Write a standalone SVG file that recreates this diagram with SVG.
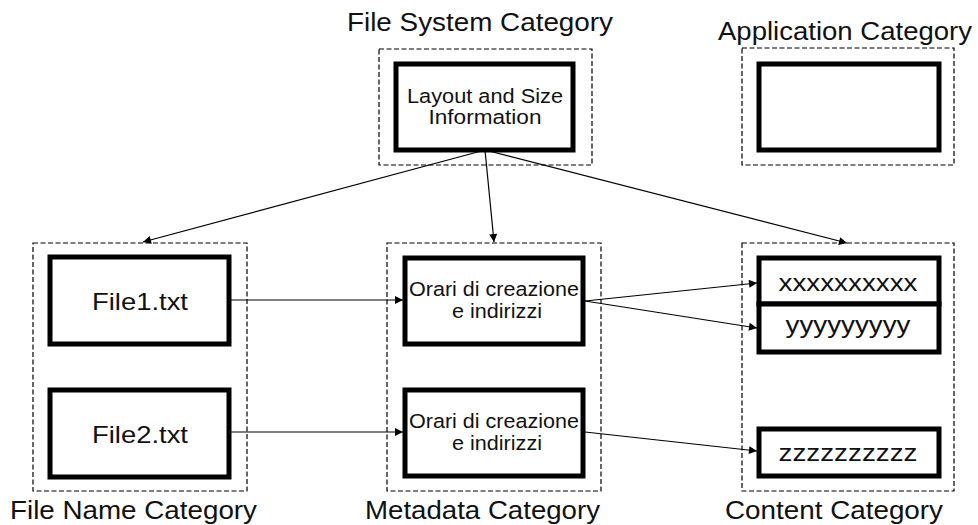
<svg xmlns="http://www.w3.org/2000/svg" width="978" height="525" viewBox="0 0 978 525">
  <style>
    .cat { fill: none; stroke: #000; stroke-width: 1.2; stroke-dasharray: 5 2.5; }
    .box { fill: #fff; stroke: #000; stroke-width: 5; }
    .lbl { font-family: "Liberation Sans", Arial, sans-serif; font-size: 25px; fill: #111; }
    .txt { font-family: "Liberation Sans", Arial, sans-serif; font-size: 20.5px; fill: #111; text-anchor: middle; }
    .big { font-family: "Liberation Sans", Arial, sans-serif; font-size: 24px; fill: #111; text-anchor: middle; }
    .conn line { stroke: #000; stroke-width: 1.2; marker-end: url(#arrow); }
  </style>
  <defs>
    <marker id="arrow" viewBox="0 0 10 10" refX="10" refY="5" markerWidth="10" markerHeight="8" markerUnits="userSpaceOnUse" orient="auto">
      <path d="M0,0 L10,5 L0,10 z" fill="#000"/>
    </marker>
  </defs>
  <rect width="978" height="525" fill="#fff"/>

  <!-- File System Category -->
  <g id="fs-category">
    <text class="lbl" x="347" y="31" textLength="266" lengthAdjust="spacingAndGlyphs">File System Category</text>
    <rect class="cat" x="379" y="49" width="213" height="116"/>
  </g>
  <g id="layout-size">
    <rect class="box" x="396" y="64" width="177" height="86"/>
    <text class="txt" x="485" y="103" textLength="156" lengthAdjust="spacingAndGlyphs">Layout and Size</text>
    <text class="txt" x="485" y="124" textLength="113" lengthAdjust="spacingAndGlyphs">Information</text>
  </g>

  <!-- Application Category -->
  <g id="app-category">
    <text class="lbl" x="718" y="40" textLength="254" lengthAdjust="spacingAndGlyphs">Application Category</text>
    <rect class="cat" x="742" y="48" width="212" height="117"/>
  </g>
  <g id="app-box">
    <rect class="box" x="759" y="64" width="180" height="86"/>
  </g>

  <!-- File Name Category -->
  <g id="fn-category">
    <rect class="cat" x="33" y="243" width="214" height="248"/>
    <text class="lbl" x="10" y="519" textLength="247" lengthAdjust="spacingAndGlyphs">File Name Category</text>
  </g>
  <g id="file1">
    <rect class="box" x="50" y="257" width="179" height="87"/>
    <text class="big" x="140" y="310" textLength="96" lengthAdjust="spacingAndGlyphs">File1.txt</text>
  </g>
  <g id="file2">
    <rect class="box" x="50" y="390" width="179" height="87"/>
    <text class="big" x="140" y="443" textLength="96" lengthAdjust="spacingAndGlyphs">File2.txt</text>
  </g>

  <!-- Metadata Category -->
  <g id="md-category">
    <rect class="cat" x="387" y="243" width="214" height="248"/>
    <text class="lbl" x="365" y="519" textLength="235" lengthAdjust="spacingAndGlyphs">Metadata Category</text>
  </g>
  <g id="meta1">
    <rect class="box" x="405" y="258" width="178" height="86"/>
    <text class="txt" x="494" y="296" textLength="170" lengthAdjust="spacingAndGlyphs">Orari di creazione</text>
    <text class="txt" x="497" y="318" textLength="90" lengthAdjust="spacingAndGlyphs">e indirizzi</text>
  </g>
  <g id="meta2">
    <rect class="box" x="405" y="390" width="178" height="86"/>
    <text class="txt" x="494" y="428" textLength="170" lengthAdjust="spacingAndGlyphs">Orari di creazione</text>
    <text class="txt" x="497" y="450" textLength="90" lengthAdjust="spacingAndGlyphs">e indirizzi</text>
  </g>

  <!-- Content Category -->
  <g id="ct-category">
    <rect class="cat" x="742" y="243" width="212" height="248"/>
    <text class="lbl" x="725" y="519" textLength="218" lengthAdjust="spacingAndGlyphs">Content Category</text>
  </g>
  <g id="content-x">
    <rect class="box" x="759" y="258" width="180" height="46"/>
    <text class="big" x="848" y="291" textLength="139" lengthAdjust="spacingAndGlyphs">xxxxxxxxxx</text>
  </g>
  <g id="content-y">
    <rect class="box" x="759" y="304" width="180" height="48"/>
    <text class="big" x="848" y="333" textLength="125" lengthAdjust="spacingAndGlyphs">yyyyyyyyy</text>
  </g>
  <g id="content-z">
    <rect class="box" x="759" y="429" width="180" height="47"/>
    <text class="big" x="848" y="461" textLength="139" lengthAdjust="spacingAndGlyphs">zzzzzzzzzz</text>
  </g>

  <!-- Connectors -->
  <g id="connectors" class="conn">
    <line x1="485" y1="150" x2="143" y2="242"/>
    <line x1="485" y1="150" x2="494" y2="242"/>
    <line x1="485" y1="150" x2="847" y2="243"/>
    <line x1="231" y1="300" x2="403" y2="300"/>
    <line x1="231" y1="432" x2="403" y2="432"/>
    <line x1="585" y1="301" x2="757" y2="283"/>
    <line x1="585" y1="301" x2="757" y2="328"/>
    <line x1="585" y1="432" x2="757" y2="451"/>
  </g>
</svg>
